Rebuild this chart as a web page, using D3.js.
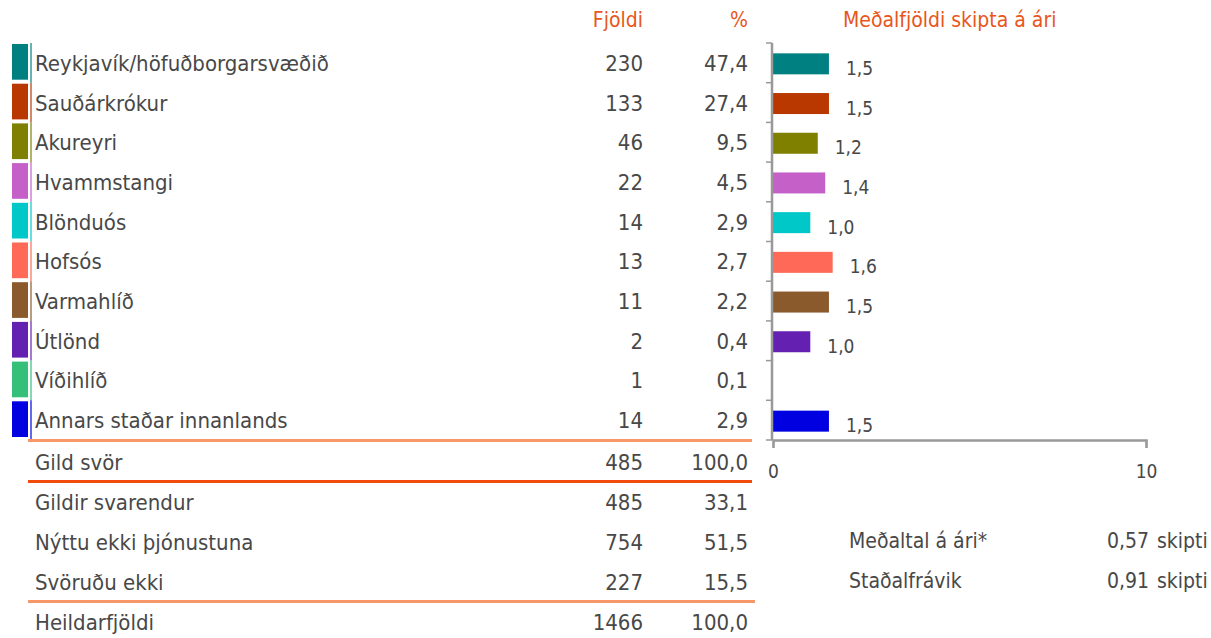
<!DOCTYPE html>
<html>
<head>
<meta charset="utf-8">
<script src="https://cdn.jsdelivr.net/npm/d3@7"></script>
<style>
  body { margin: 0; background: #fff; }
  svg text { font-family: "DejaVu Sans Condensed", "DejaVu Sans", sans-serif; }
</style>
</head>
<body>
<div id="app"></div>
<script>
// data
const categories = ['Reykjavík/höfuðborgarsvæðið', 'Sauðárkrókur', 'Akureyri', 'Hvammstangi', 'Blönduós',
  'Hofsós', 'Varmahlíð', 'Útlönd', 'Víðihlíð', 'Annars staðar innanlands'];
const counts = [230, 133, 46, 22, 14, 13, 11, 2, 1, 14];
const percents = [47.4, 27.4, 9.5, 4.5, 2.9, 2.7, 2.2, 0.4, 0.1, 2.9];
const means = [1.5, 1.5, 1.2, 1.4, 1.0, 1.6, 1.5, 1.0, null, 1.5];
const colors = ['#008080', '#b83800', '#808000', '#c460c8', '#00c8c8', '#ff6a58', '#8a5a2c', '#6420b0', '#34c078', '#0000e0'];

const summaryLabels = ['Gild svör', 'Gildir svarendur', 'Nýttu ekki þjónustuna', 'Svöruðu ekki', 'Heildarfjöldi'];
const summaryCounts = [485, 485, 754, 227, 1466];
const summaryPercents = [100.0, 33.1, 51.5, 15.5, 100.0];

const statLabels = ['Meðaltal á ári*', 'Staðalfrávik'];
const statValues = [0.57, 0.91];
const statUnit = 'skipti';

const xTicks = [0, 10];

const W = 1211, H = 638;
const textColor = '#484848';
const orange = '#e8561c';
const fmt1 = v => d3.format('.1f')(v).replace('.', ',');
const fmt2 = v => d3.format('.2f')(v).replace('.', ',');

const svg = d3.select('#app').append('svg')
  .attr('width', W).attr('height', H);

const y = d3.scaleBand().domain(categories).range([43, 440]);
const x = d3.scaleLinear().domain([0, 10]).range([773, 1146]);
const color = d3.scaleOrdinal().domain(categories).range(colors);

// headers
const header = svg.append('g').attr('fill', orange).style('font-size', '21px');
header.append('text').attr('x', 643).attr('y', 27).attr('text-anchor', 'end').text('Fjöldi');
header.append('text').attr('x', 748).attr('y', 27).attr('text-anchor', 'end').text('%');
header.append('text').attr('x', 843).attr('y', 27).text('Meðalfjöldi skipta á ári');

// table rows with swatches
const rows = svg.append('g').selectAll('g').data(categories).join('g')
  .attr('transform', d => `translate(0,${y(d)})`);

rows.append('rect')
  .attr('x', 12).attr('y', 1)
  .attr('width', 16).attr('height', y.step() - 4)
  .attr('fill', d => color(d));

rows.append('line')
  .attr('x1', 31).attr('x2', 31)
  .attr('y1', 0).attr('y2', y.step())
  .attr('stroke', d => color(d)).attr('stroke-width', 1.2);

rows.append('text')
  .attr('x', 35).attr('y', y.step() / 2 + 8)
  .attr('fill', textColor).style('font-size', '22px')
  .text(d => d);

rows.append('text')
  .attr('x', 643).attr('y', y.step() / 2 + 8)
  .attr('text-anchor', 'end')
  .attr('fill', textColor).style('font-size', '22px')
  .text((d, i) => counts[i]);

rows.append('text')
  .attr('x', 748).attr('y', y.step() / 2 + 8)
  .attr('text-anchor', 'end')
  .attr('fill', textColor).style('font-size', '22px')
  .text((d, i) => fmt1(percents[i]));

// summary rows
const sumRows = svg.append('g').selectAll('g').data(summaryLabels).join('g')
  .attr('transform', (d, i) => `translate(0,${462 + i * 40})`);

sumRows.append('text').attr('x', 35).attr('y', 8)
  .attr('fill', textColor).style('font-size', '22px').text(d => d);
sumRows.append('text').attr('x', 643).attr('y', 8).attr('text-anchor', 'end')
  .attr('fill', textColor).style('font-size', '22px').text((d, i) => summaryCounts[i]);
sumRows.append('text').attr('x', 748).attr('y', 8).attr('text-anchor', 'end')
  .attr('fill', textColor).style('font-size', '22px').text((d, i) => fmt1(summaryPercents[i]));

// separator lines
svg.append('line').attr('x1', 28).attr('x2', 752).attr('y1', 440.5).attr('y2', 440.5)
  .attr('stroke', '#f89868').attr('stroke-width', 3);
svg.append('line').attr('x1', 28).attr('x2', 752).attr('y1', 481.5).attr('y2', 481.5)
  .attr('stroke', '#f04c0c').attr('stroke-width', 3);
svg.append('line').attr('x1', 28).attr('x2', 755).attr('y1', 601.5).attr('y2', 601.5)
  .attr('stroke', '#f89868').attr('stroke-width', 3);

// bar chart
const chart = svg.append('g');
const withMean = categories.filter((d, i) => means[i] != null);
const meanOf = d => means[categories.indexOf(d)];

const barH = 21;
chart.selectAll('rect.bar').data(withMean).join('rect')
  .attr('class', 'bar')
  .attr('x', x(0))
  .attr('y', d => y(d) + y.bandwidth() / 2 - barH / 2 + 1)
  .attr('width', d => x(meanOf(d)) - x(0))
  .attr('height', barH)
  .attr('fill', d => color(d));

chart.selectAll('text.val').data(withMean).join('text')
  .attr('class', 'val')
  .attr('x', d => x(meanOf(d)) + 17)
  .attr('y', d => y(d) + y.bandwidth() / 2 + 12)
  .attr('fill', textColor).style('font-size', '19px')
  .text(d => fmt1(meanOf(d)));

// y axis with ticks at band boundaries
const yAxisG = chart.append('g');
yAxisG.append('line')
  .attr('x1', 772).attr('x2', 772)
  .attr('y1', y.range()[0]).attr('y2', y.range()[1])
  .attr('stroke', '#999').attr('stroke-width', 2.5);
yAxisG.selectAll('line.tick').data(d3.range(categories.length + 1)).join('line')
  .attr('class', 'tick')
  .attr('x1', 766).attr('x2', 772)
  .attr('y1', i => y.range()[0] + i * y.step())
  .attr('y2', i => y.range()[0] + i * y.step())
  .attr('stroke', '#999').attr('stroke-width', 1.5);

// x axis
const xAxis = d3.axisBottom(x).tickValues(xTicks).tickSize(8).tickPadding(17)
  .tickFormat(d3.format('d'));
const xAxisG = chart.append('g')
  .attr('transform', `translate(0,${y.range()[1]})`)
  .call(xAxis);
xAxisG.select('.domain').attr('stroke', '#999').attr('stroke-width', 2.5);
xAxisG.selectAll('.tick line').attr('stroke', '#999').attr('stroke-width', 1.5);
xAxisG.selectAll('.tick text')
  .attr('fill', textColor).style('font-size', '19px')
  .style('font-family', '"DejaVu Sans Condensed", "DejaVu Sans", sans-serif');

// stats
const stats = svg.append('g').selectAll('g').data(statLabels).join('g')
  .attr('transform', (d, i) => `translate(0,${541 + i * 40})`);
stats.append('text').attr('x', 849).attr('y', 7)
  .attr('fill', textColor).style('font-size', '21px').text(d => d);
stats.append('text').attr('x', 1149).attr('y', 7).attr('text-anchor', 'end')
  .attr('fill', textColor).style('font-size', '21px').text((d, i) => fmt2(statValues[i]));
stats.append('text').attr('x', 1157).attr('y', 7)
  .attr('fill', textColor).style('font-size', '21px').text(statUnit);
</script>
</body>
</html>
